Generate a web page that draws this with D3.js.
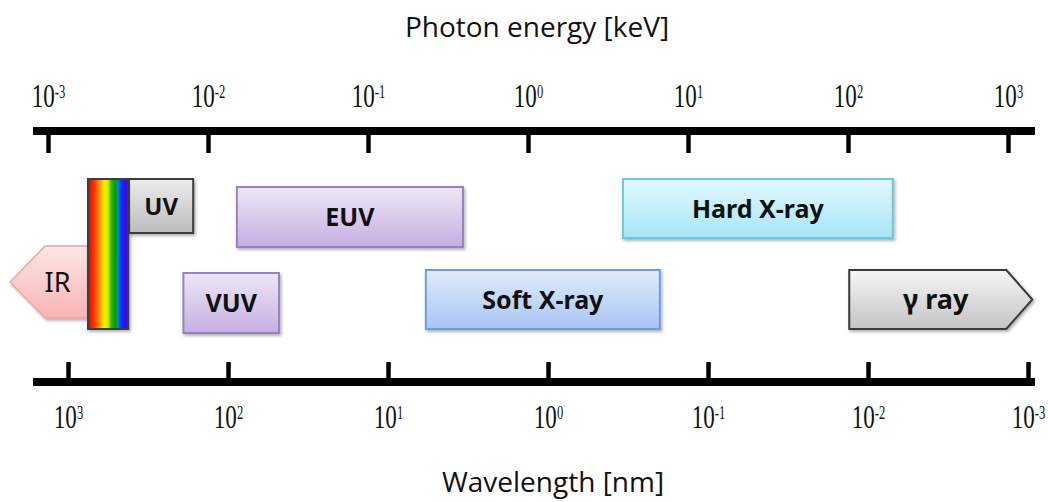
<!DOCTYPE html>
<html>
<head>
<meta charset="utf-8">
<script src="https://cdn.jsdelivr.net/npm/d3@7"></script>
<style>
  body { margin: 0; background: #fff; }
  svg { display: block; }
  .band-label { font-family: "Noto Sans", "Open Sans", sans-serif; font-weight: bold; fill: #111; }
  .axis-title { font-family: "Open Sans", "Noto Sans", sans-serif; fill: #111; }
  .tick text { font-family: "Liberation Serif", serif; fill: #111; }
</style>
</head>
<body>
<div id="chart"></div>
<script>
// axis values
const energyTicks = [1e-3, 1e-2, 1e-1, 1e0, 1e1, 1e2, 1e3];       // keV
const wavelengthTicks = [1e3, 1e2, 1e1, 1e0, 1e-1, 1e-2, 1e-3];   // nm
const tickExponents = [-3, -2, -1, 0, 1, 2, 3];

// spectral bands, wavelength extent in nm (from = long side, to = short side)
const bandNames = ["IR", "Visible", "UV", "VUV", "EUV", "Soft X-ray", "Hard X-ray", "γ ray"];
const bandFrom  = [2300, 750, 415, 190, 88, 5.8, 0.34, 0.0131];
const bandTo    = [750, 420, 165, 48, 3.4, 0.2, 0.007, 0.00094];
const bandRow   = ["lower", "both", "upper", "lower", "upper", "lower", "upper", "lower"];

const width = 1048, height = 502;
const topAxisY = 131, bottomAxisY = 382;

const svg = d3.select("#chart").append("svg")
  .attr("width", width)
  .attr("height", height);

const xEnergy = d3.scaleLog().domain([1e-3, 1e3]).range([48, 1008]);
const xWave = d3.scaleLog().domain([1e3, 1e-3]).range([68, 1028]);

// look of each band (layout/style only)
const style = {
  "IR":         { top: 246, h: 72, c1: "#fde6e6", c2: "#f7b4b4", stroke: "#f0a4a4", sw: 1.5, font: 27, weight: "normal", arrow: "left", head: 35, tx: 9 },
  "Visible":    { top: 179, h: 150, stroke: "#3c3c3c", sw: 2 },
  "UV":         { top: 179, h: 54, c1: "#ececec", c2: "#bcbcbc", stroke: "#3a3a3a", sw: 2, font: 24 },
  "VUV":        { top: 273, h: 60, c1: "#eee6f7", c2: "#c5afe2", stroke: "#9a80c4", sw: 2, font: 25 },
  "EUV":        { top: 187, h: 60, c1: "#eee6f7", c2: "#c5afe2", stroke: "#9a80c4", sw: 2, font: 25 },
  "Soft X-ray": { top: 270, h: 59, c1: "#e0ebfd", c2: "#a8c5f4", stroke: "#6e9de0", sw: 2, font: 25 },
  "Hard X-ray": { top: 179, h: 59, c1: "#e2f8fd", c2: "#a6e5f8", stroke: "#6ec5de", sw: 2, font: 25 },
  "γ ray":      { top: 270, h: 59, c1: "#f6f6f6", c2: "#c4c4c4", stroke: "#3a3a3a", sw: 2, font: 27, arrow: "right", head: 26, tx: -8 }
};

const defs = svg.append("defs");

defs.append("filter")
  .attr("id", "shadow")
  .attr("x", "-10%").attr("y", "-10%")
  .attr("width", "130%").attr("height", "140%")
  .append("feDropShadow")
  .attr("dx", 1.5).attr("dy", 2)
  .attr("stdDeviation", 1.5)
  .attr("flood-opacity", 0.3);

bandNames.forEach((name, i) => {
  const s = style[name];
  if (!s.c1) return;
  const g = defs.append("linearGradient")
    .attr("id", "grad" + i)
    .attr("x1", 0).attr("y1", 0).attr("x2", 0).attr("y2", 1);
  g.append("stop").attr("offset", "0%").attr("stop-color", s.c1);
  g.append("stop").attr("offset", "100%").attr("stop-color", s.c2);
});

const rainbow = defs.append("linearGradient")
  .attr("id", "rainbow")
  .attr("x1", 0).attr("y1", 0).attr("x2", 1).attr("y2", 0);
[["0%", "#e00000"], ["14%", "#ff3000"], ["28%", "#ff9000"], ["40%", "#ffee00"],
 ["50%", "#c8f000"], ["58%", "#30b000"], ["68%", "#00a000"], ["74%", "#0090c0"],
 ["82%", "#1030ff"], ["92%", "#3010f0"], ["100%", "#6010b0"]].forEach(([o, c]) => {
  rainbow.append("stop").attr("offset", o).attr("stop-color", c);
});

// titles
svg.append("text")
  .attr("class", "axis-title")
  .attr("x", 537).attr("y", 37)
  .attr("text-anchor", "middle")
  .style("font-size", "28px")
  .text("Photon energy [keV]");

svg.append("text")
  .attr("class", "axis-title")
  .attr("x", 553).attr("y", 492)
  .attr("text-anchor", "middle")
  .style("font-size", "28px")
  .text("Wavelength [nm]");

// superscript tick labels, narrow like the original
function powerLabel(sel, exps) {
  sel.selectAll(".tick text").each(function(d, i) {
    const t = d3.select(this).text(null)
      .attr("transform", "scale(0.7,1)")
      .style("font-size", "33px");
    t.append("tspan").text("10");
    t.append("tspan")
      .attr("dy", "-0.5em")
      .style("font-size", "18px")
      .text(String(exps[i]));
  });
}

// top axis (energy)
const topAxis = svg.append("g")
  .attr("transform", `translate(0, ${topAxisY})`)
  .call(d3.axisTop(xEnergy)
    .tickValues(energyTicks)
    .tickSizeInner(-22)
    .tickSizeOuter(0)
    .tickPadding(24));
topAxis.select(".domain").remove();
topAxis.selectAll(".tick line").attr("stroke", "#000").attr("stroke-width", 4.5);
topAxis.selectAll(".tick text").attr("dy", "0");
powerLabel(topAxis, tickExponents);

topAxis.append("line")
  .attr("x1", 33).attr("x2", 1035)
  .attr("stroke", "#000").attr("stroke-width", 8);

// bottom axis (wavelength)
const bottomAxis = svg.append("g")
  .attr("transform", `translate(0, ${bottomAxisY})`)
  .call(d3.axisBottom(xWave)
    .tickValues(wavelengthTicks)
    .tickSizeInner(-20)
    .tickSizeOuter(0)
    .tickPadding(46));
bottomAxis.select(".domain").remove();
bottomAxis.selectAll(".tick line").attr("stroke", "#000").attr("stroke-width", 4.5);
bottomAxis.selectAll(".tick text").attr("dy", "0");
powerLabel(bottomAxis, tickExponents.slice().reverse());

bottomAxis.append("line")
  .attr("x1", 33).attr("x2", 1035)
  .attr("stroke", "#000").attr("stroke-width", 8);

// bands
const bands = bandNames.map((name, i) => ({
  name, from: bandFrom[i], to: bandTo[i], row: bandRow[i], idx: i
}));

const bandG = svg.append("g");

bands.forEach(d => {
  const s = style[d.name];
  const x0 = xWave(d.from), x1 = xWave(d.to);
  const y0 = s.top, y1 = s.top + s.h, ym = (y0 + y1) / 2;
  let shape;
  if (s.arrow === "left") {
    const xb = x0 + s.head;
    shape = bandG.append("path")
      .attr("d", `M${x0},${ym} L${xb},${y0} L${x1},${y0} L${x1},${y1} L${xb},${y1} Z`);
  } else if (s.arrow === "right") {
    const xb = x1 - s.head;
    shape = bandG.append("path")
      .attr("d", `M${x0},${y0} L${xb},${y0} L${x1},${ym} L${xb},${y1} L${x0},${y1} Z`);
  } else {
    shape = bandG.append("rect")
      .attr("x", x0).attr("y", y0)
      .attr("width", x1 - x0).attr("height", s.h);
  }
  shape
    .attr("fill", d.name === "Visible" ? "url(#rainbow)" : `url(#grad${d.idx})`)
    .attr("stroke", s.stroke)
    .attr("stroke-width", s.sw)
    .attr("filter", "url(#shadow)");

  if (s.font) {
    let cx = (x0 + x1) / 2;
    if (s.arrow === "left") cx = (x0 + s.head + x1) / 2 - s.tx;
    if (s.arrow === "right") cx = (x0 + x1 - s.head) / 2 - s.tx;
    bandG.append("text")
      .attr("class", "band-label")
      .attr("x", cx).attr("y", ym)
      .attr("dy", "0.36em")
      .attr("text-anchor", "middle")
      .style("font-size", s.font + "px")
      .style("font-weight", s.weight || "bold")
      .text(d.name);
  }
});
</script>
</body>
</html>
